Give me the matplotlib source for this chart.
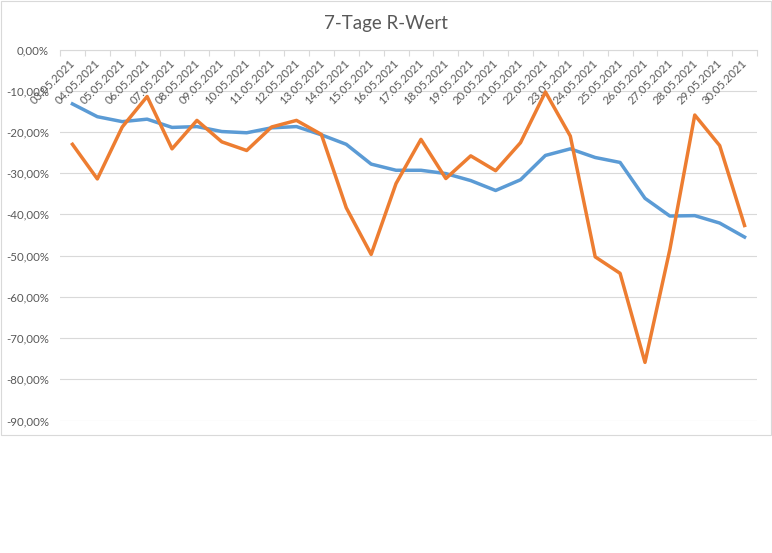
import matplotlib
matplotlib.use("Agg")
import matplotlib.pyplot as plt
import matplotlib.transforms as mtransforms
from matplotlib.patches import Rectangle
from matplotlib.ticker import FuncFormatter, FixedLocator
import numpy as np

# data (values in percent)
dates = ["%02d.05.2021" % d for d in range(3, 31)]
blue_values = [-13.2, -16.3, -17.5, -16.9, -18.9, -18.7, -19.9, -20.2, -19.0, -18.7,
               -20.7, -23.0, -27.8, -29.3, -29.3, -30.1, -31.8, -34.2, -31.6, -25.7,
               -24.1, -26.2, -27.4, -36.1, -40.4, -40.3, -42.1, -45.5]
orange_values = [-23.0, -31.4, -18.8, -11.4, -24.1, -17.2, -22.4, -24.5, -18.8, -17.2,
                 -20.6, -38.4, -49.7, -32.5, -21.8, -31.3, -25.8, -29.4, -22.6, -10.3,
                 -21.0, -50.3, -54.3, -75.9, -48.5, -15.9, -23.3, -42.7]
y_ticks = [0, -10, -20, -30, -40, -50, -60, -70, -80, -90]

W, H = 772, 553
GRAY_TXT = "#595959"
GRID = "#D9D9D9"

plt.rcParams['font.family'] = ['Lato', 'DejaVu Sans']

fig = plt.figure(figsize=(W / 100, H / 100), dpi=100)
fig.patch.set_facecolor("white")

# chart frame like the excel chart area
fig.patches.append(Rectangle((0.5 / W, 1 - 434.5 / H), 770 / W, 434 / H,
                             transform=fig.transFigure, fill=False,
                             edgecolor=GRID, lw=0.8))

left, right = 60 / W, 757 / W
top, bottom = 1 - 49.5 / H, 1 - 420.5 / H
ax = fig.add_axes([left, bottom, right - left, top - bottom])

x = np.arange(len(dates))
ax.plot(x, blue_values, color="#5B9BD5", lw=2.5, solid_joinstyle="round", zorder=3)
ax.plot(x, orange_values, color="#ED7D31", lw=2.5, solid_joinstyle="round", zorder=4)

ax.set_xlim(-0.5, len(dates) - 0.5)
ax.set_ylim(-90, 0)

# y axis
ax.set_yticks(y_ticks)
ax.yaxis.set_major_formatter(FuncFormatter(
    lambda v, p: ("%.2f%%" % v).replace(".", ",") if v != 0 else "0,00%"))
ax.tick_params(axis="y", length=0, pad=8, labelsize=8.3, labelcolor=GRAY_TXT)
ax.grid(axis="y", color=GRID, lw=0.8)
ax.set_axisbelow(True)

# x axis sits at 0 (top), ticks between categories
ax.xaxis.tick_top()
ax.xaxis.set_major_locator(FixedLocator(np.arange(len(dates) + 1) - 0.5))
ax.xaxis.set_major_formatter(FuncFormatter(lambda v, p: ""))
ax.tick_params(axis="x", direction="in", length=4, width=0.8, color=GRID)

for s in ["left", "right", "bottom"]:
    ax.spines[s].set_visible(False)
ax.spines["top"].set_color(GRID)
ax.spines["top"].set_linewidth(0.8)

offset = mtransforms.ScaledTranslation(1 / 100, -12 / 100, fig.dpi_scale_trans)
for i, d in enumerate(dates):
    ax.text(i, 1, d, transform=ax.get_xaxis_transform() + offset,
            rotation=45, rotation_mode="anchor", ha="right", va="center",
            fontsize=8.2, color=GRAY_TXT)

fig.text(0.5, 1 - 29.3 / H, "7-Tage R-Wert", ha="center", va="baseline",
         fontsize=13.5, color=GRAY_TXT)

fig.savefig("out.png", dpi=100, facecolor="white")
